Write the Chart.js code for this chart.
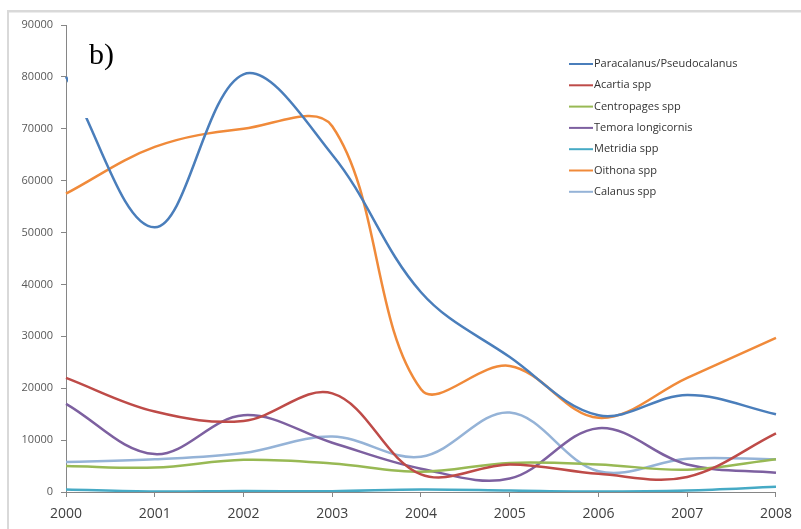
<!DOCTYPE html>
<html>
<head>
<meta charset="utf-8">
<script src="https://cdn.jsdelivr.net/npm/chart.js@4.4.1/dist/chart.umd.min.js"></script>
<style>
  html, body { margin: 0; padding: 0; background: #fff; }
  #box { width: 801px; height: 529px; }
</style>
</head>
<body>
<div id="box"><canvas id="grafico" width="801" height="529"></canvas></div>
<script>
const anos = ["2000", "2001", "2002", "2003", "2004", "2005", "2006", "2007", "2008"];

const paracalanus = [80000, 51000, 80500, 65000, 38500, 26000, 14800, 18700, 15000];
const acartia = [22000, 15500, 13700, 19000, 3400, 5300, 3500, 2900, 11300];
const centropages = [5000, 4700, 6200, 5500, 3900, 5600, 5300, 4300, 6300];
const temora = [17000, 7300, 14800, 9500, 4500, 2600, 12300, 5300, 3700];
const metridia = [500, 100, 200, 150, 500, 300, 100, 300, 1000];
const oithona = [57500, 66500, 70000, 70500, 19800, 24300, 14300, 22000, 29700];
const calanus = [5800, 6300, 7500, 10700, 6800, 15300, 4000, 6400, 6300];

const series = [
  { nome: "Paracalanus/Pseudocalanus", dados: paracalanus, cor: "#4A7EBB" },
  { nome: "Acartia spp", dados: acartia, cor: "#BE4B48" },
  { nome: "Centropages spp", dados: centropages, cor: "#98B954" },
  { nome: "Temora longicornis", dados: temora, cor: "#7D60A0" },
  { nome: "Metridia spp", dados: metridia, cor: "#46AAC5" },
  { nome: "Oithona spp", dados: oithona, cor: "#F08A3A" },
  { nome: "Calanus spp", dados: calanus, cor: "#95B3D7" }
];

const fundo = {
  id: "fundo",
  beforeDraw(chart) {
    const ctx = chart.ctx;
    ctx.save();
    ctx.fillStyle = "#fff";
    ctx.fillRect(0, 0, chart.width, chart.height);
    ctx.fillStyle = "#d9d9d9";
    ctx.fillRect(7, 10, chart.width, 2.5);
    ctx.fillRect(7, 10, 2, chart.height);
    ctx.restore();
  }
};

// caixa do "b)" por cima das linhas, e legenda desenhada à mão
const extras = {
  id: "extras",
  afterDatasetsDraw(chart) {
    const ctx = chart.ctx;
    ctx.save();
    ctx.fillStyle = "#fff";
    ctx.fillRect(68, 28, 58, 90);
    ctx.fillStyle = "#000";
    ctx.font = "30px 'Liberation Serif'";
    ctx.textBaseline = "alphabetic";
    ctx.fillText("b)", 89, 64);

    ctx.font = "11px 'Open Sans'";
    ctx.textBaseline = "middle";
    chart.data.datasets.forEach((ds, i) => {
      const y = 64 + i * 21.3;
      ctx.strokeStyle = ds.borderColor;
      ctx.lineWidth = 2;
      ctx.beginPath();
      ctx.moveTo(569, y);
      ctx.lineTo(593, y);
      ctx.stroke();
      ctx.fillStyle = "#333";
      ctx.fillText(ds.label, 594, y);
    });
    ctx.restore();
  }
};

new Chart(document.getElementById("grafico"), {
  type: "line",
  data: {
    labels: anos,
    datasets: series.map(s => ({
      label: s.nome,
      data: s.dados,
      borderColor: s.cor,
      backgroundColor: s.cor,
      borderWidth: 2.5,
      pointRadius: 0,
      tension: 0.36,
      fill: false
    }))
  },
  options: {
    responsive: false,
    animation: false,
    layout: { padding: { top: 25, right: 16, left: 0, bottom: 0 } },
    plugins: {
      legend: { display: false },
      tooltip: { enabled: false }
    },
    scales: {
      x: {
        offset: false,
        afterFit: scale => { scale.height = 37; },
        grid: { drawOnChartArea: false, drawTicks: true, tickLength: 5, color: "#868686" },
        border: { display: true, color: "#868686" },
        ticks: { color: "#404040", font: { family: "Open Sans", size: 14 }, padding: 9, maxRotation: 0 }
      },
      y: {
        min: 0,
        max: 90000,
        afterFit: scale => { scale.width = 66; },
        grid: { drawOnChartArea: false, drawTicks: true, tickLength: 5, color: "#868686" },
        border: { display: true, color: "#868686" },
        ticks: {
          stepSize: 10000,
          color: "#595959",
          font: { family: "Open Sans", size: 11 },
          padding: 8,
          callback: v => String(v)
        }
      }
    }
  },
  plugins: [fundo, extras]
});
</script>
</body>
</html>
